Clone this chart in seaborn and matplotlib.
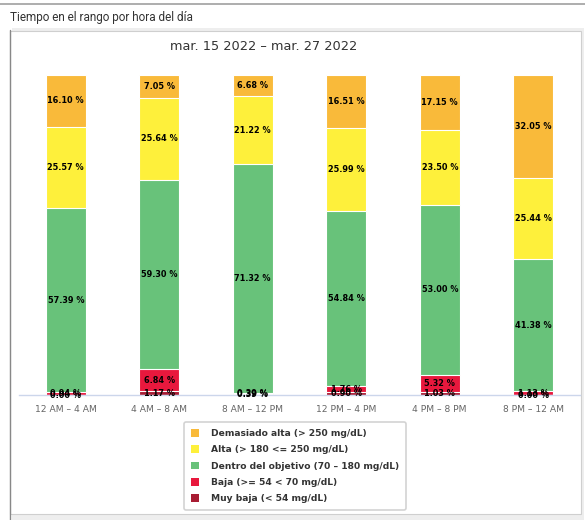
import numpy as np
import pandas as pd
import matplotlib
matplotlib.use("Agg")
import matplotlib.pyplot as plt
from matplotlib.patches import Patch, Rectangle
from matplotlib.lines import Line2D
import seaborn as sns

sns.set_style("white")
plt.rcParams['font.family'] = ['DejaVu Sans']

# datos
franjas = ["12 AM – 4 AM", "4 AM – 8 AM", "8 AM – 12 PM",
           "12 PM – 4 PM", "4 PM – 8 PM", "8 PM – 12 AM"]
muy_baja = [0.00, 1.17, 0.39, 0.90, 1.03, 0.00]
baja = [0.94, 6.84, 0.39, 1.76, 5.32, 1.13]
dentro = [57.39, 59.30, 71.32, 54.84, 53.00, 41.38]
alta = [25.57, 25.64, 21.22, 25.99, 23.50, 25.44]
demasiado = [16.10, 7.05, 6.68, 16.51, 17.15, 32.05]

series = [
    ("Muy baja (< 54 mg/dL)", muy_baja, "#A81C33"),
    ("Baja (>= 54 < 70 mg/dL)", baja, "#E8183D"),
    ("Dentro del objetivo (70 – 180 mg/dL)", dentro, "#68C27A"),
    ("Alta (> 180 <= 250 mg/dL)", alta, "#FEF03B"),
    ("Demasiado alta (> 250 mg/dL)", demasiado, "#F9BA3A"),
]

df = pd.DataFrame({"franja": franjas})
bottoms = np.zeros(len(franjas))
for nombre, vals, color in series:
    df[nombre + "_bot"] = bottoms.copy()
    bottoms = bottoms + np.array(vals)
    df[nombre + "_top"] = bottoms.copy()

fig = plt.figure(figsize=(5.85, 5.20), dpi=100)
W, H = 585, 520

# marco exterior
fig.add_artist(Line2D([0, 1], [1 - 4 / H, 1 - 4 / H], color="#a0a0a0", lw=1.2))
fig.add_artist(Rectangle((12 / W, 0), 572 / W, 1 - 28 / H, facecolor="#eeeeee",
                         edgecolor="none", transform=fig.transFigure, zorder=-3))
fig.add_artist(Rectangle((10 / W, 6 / H), 571 / W, 1 - 37 / H, facecolor="white",
                         edgecolor="#cfcfcf", lw=0.8, transform=fig.transFigure, zorder=-2))
fig.add_artist(Line2D([10 / W, 10 / W], [0, 1 - 30 / H], color="#888888", lw=1.0))
fig.text(10 / W, 1 - 17 / H, "Tiempo en el rango por hora del día", fontsize=8.5,
         family="Roboto", color="#333333", va="center", ha="left")
fig.text(264 / W, 1 - 47 / H, "mar. 15 2022 – mar. 27 2022", fontsize=9.3,
         color="#333333", va="center", ha="center")

ax = fig.add_axes([19 / W, 1 - 395 / H, 561 / W, 320 / H])

# barras apiladas: se dibuja de la mas alta a la mas baja
for nombre, vals, color in reversed(series):
    sns.barplot(data=df, x="franja", y=nombre + "_top", color=color, width=0.43,
                edgecolor="white", linewidth=0.8, saturation=1, ax=ax, order=franjas)

for nombre, vals, color in series:
    for i, v in enumerate(vals):
        yc = df[nombre + "_bot"][i] + v / 2
        ax.text(i, yc, f"{v:.2f} %", ha="center", va="center", fontsize=5.9,
                fontweight="bold", color="black")

ax.set_xlim(-0.5, 5.5)
ax.set_ylim(0, 100)
ax.set_xlabel("")
ax.set_ylabel("")
ax.set_yticks([])
ax.tick_params(axis="x", colors="#666666", labelsize=6.6, length=0, pad=7)
for s in ["top", "right", "left"]:
    ax.spines[s].set_visible(False)
ax.spines["bottom"].set_color("#ccd6eb")
ax.spines["bottom"].set_linewidth(1)
ax.patch.set_alpha(0)

handles = [Patch(facecolor=c, edgecolor="none", label=n) for n, v, c in reversed(series)]
leg = fig.legend(handles=handles, loc="upper center", bbox_to_anchor=(295 / W, 1 - 422 / H),
                 fontsize=6.6, frameon=True, fancybox=True, handlelength=0.9,
                 handleheight=0.9, handletextpad=1.3, labelspacing=0.8,
                 borderpad=0.75, borderaxespad=0, shadow=False)
for t in leg.get_texts():
    t.set_fontweight("bold")
    t.set_color("#333333")
leg.get_frame().set_edgecolor("#c8c8c8")
leg.get_frame().set_linewidth(1.2)

fig.savefig("out.png", dpi=100)
